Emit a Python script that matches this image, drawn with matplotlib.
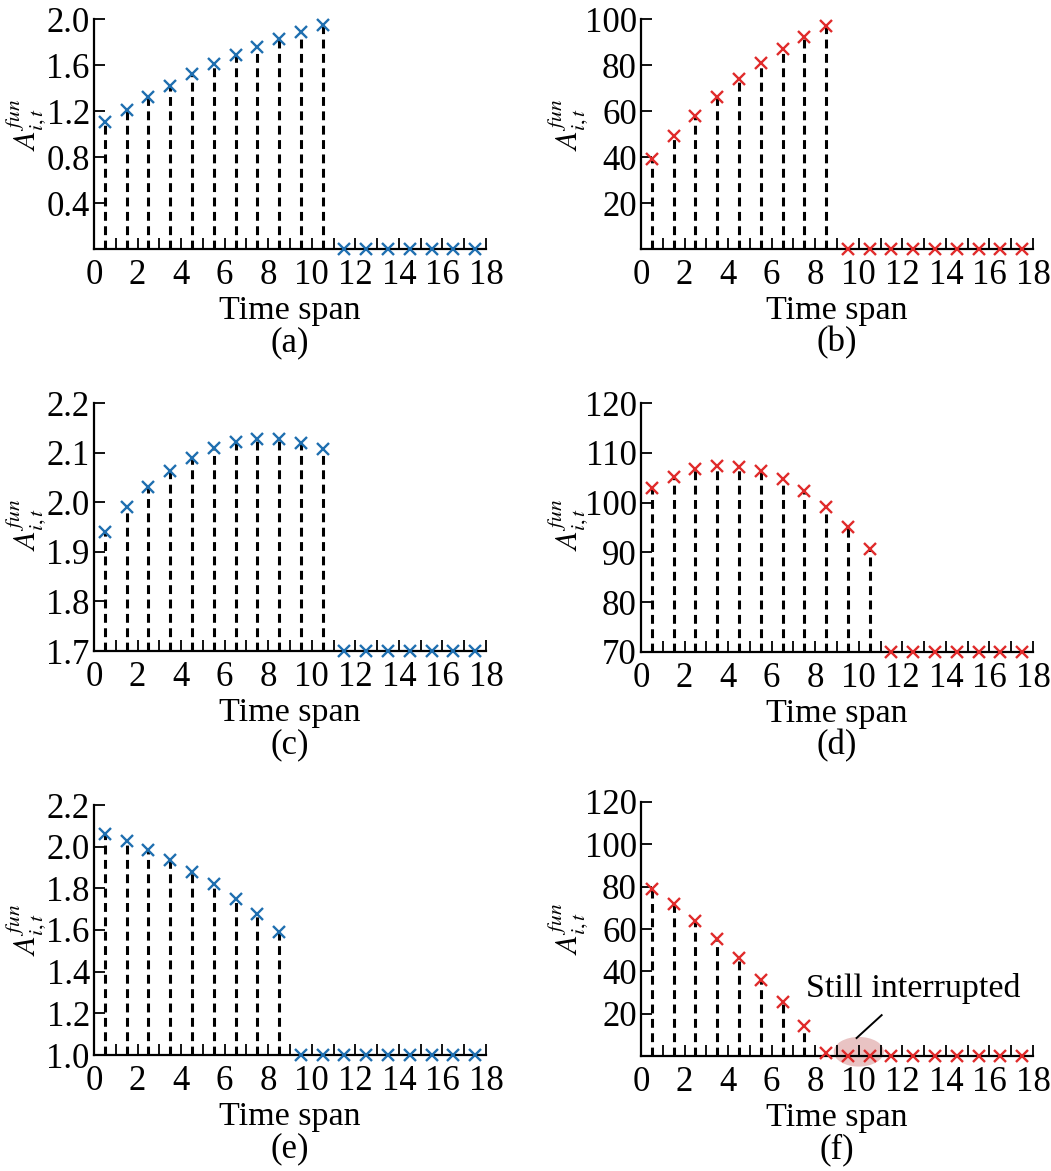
import numpy as np
import matplotlib.pyplot as plt
from matplotlib.patches import Ellipse

plt.rcParams['font.family'] = ['Liberation Serif', 'DejaVu Serif']
plt.rcParams['mathtext.fontset'] = 'stix'

t = np.arange(18) + 0.5

# values (interrupted slots sit on the baseline)
a_vals = [1.10, 1.21, 1.32, 1.42, 1.52, 1.61, 1.69, 1.76, 1.83, 1.89, 1.95] + [0.0] * 7
b_vals = [39, 49, 58, 66, 74, 81, 87, 92, 97] + [0] * 9
c_vals = [1.94, 1.99, 2.03, 2.063, 2.09, 2.11, 2.122, 2.128, 2.127, 2.12, 2.108] + [1.7] * 7
d_vals = [103.0, 105.2, 106.7, 107.3, 107.2, 106.4, 104.8, 102.3, 99.1, 95.2, 90.6] + [70] * 7
e_vals = [2.06, 2.025, 1.985, 1.935, 1.88, 1.82, 1.75, 1.675, 1.59] + [1.0] * 9
f_vals = [79, 72, 64, 55.5, 46.5, 36, 25.5, 14, 1.5] + [0] * 9

a_stems = 11
b_stems = 9
c_stems = 11
d_stems = 11
e_stems = 9
f_stems = 8

a_ticks = [0.4, 0.8, 1.2, 1.6, 2.0]
b_ticks = [20, 40, 60, 80, 100]
c_ticks = [1.7, 1.8, 1.9, 2.0, 2.1, 2.2]
d_ticks = [70, 80, 90, 100, 110, 120]
e_ticks = [1.0, 1.2, 1.4, 1.6, 1.8, 2.0, 2.2]
f_ticks = [20, 40, 60, 80, 100, 120]

blue = '#1f6fb0'
red = '#e02b2b'

W, H = 1051, 1171
fig = plt.figure(figsize=(W / 100, H / 100), dpi=100)

panels = [
    ('(a)', a_vals, a_stems, (0, 2.0), a_ticks, '%.1f', blue, 94, 19, 249, 0.54),
    ('(b)', b_vals, b_stems, (0, 100), b_ticks, '%d', red, 641, 19, 249, 0.54),
    ('(c)', c_vals, c_stems, (1.7, 2.2), c_ticks, '%.1f', blue, 94, 403, 651, 0.51),
    ('(d)', d_vals, d_stems, (70, 120), d_ticks, '%d', red, 641, 403, 652, 0.51),
    ('(e)', e_vals, e_stems, (1.0, 2.2), e_ticks, '%.1f', blue, 94, 805, 1055, 0.5),
    ('(f)', f_vals, f_stems, (0, 120), f_ticks, '%d', red, 641, 802, 1056, 0.5),
]

axes = []
for name, vals, nst, ylim, yt, fmt, col, left, top, bottom, ylab_y in panels:
    ax = fig.add_axes([left / W, 1 - bottom / H, 392 / W, (bottom - top) / H])
    vals = np.array(vals, dtype=float)
    ax.vlines(t[:nst], ylim[0], vals[:nst], colors='black', linewidth=2.2,
              linestyles=(0, (2.9, 1.8)), zorder=2)
    ax.plot(t, vals, 'x', color=col, markersize=9, markeredgewidth=1.7,
            clip_on=False, zorder=4)
    ax.set_xlim(0, 18)
    ax.set_ylim(*ylim)
    ax.set_xticks(np.arange(0, 19, 2))
    ax.set_xticks(np.arange(1, 19, 2), minor=True)
    ax.set_yticks(yt)
    ax.set_yticklabels([fmt % v for v in yt])
    ax.tick_params(axis='both', which='both', direction='in', length=8,
                   width=1.3, labelsize=25)
    ax.tick_params(axis='x', which='major', pad=7)
    ax.tick_params(axis='y', which='major', pad=3)
    for s in ['top', 'right']:
        ax.spines[s].set_visible(False)
    for s in ['left', 'bottom']:
        ax.spines[s].set_linewidth(1.6)
        ax.spines[s].set_zorder(3)
    ax.annotate('Time span', xy=(0.5, 0), xycoords='axes fraction',
                xytext=(0, -62), textcoords='offset pixels',
                ha='center', va='center', fontsize=24.5)
    ax.annotate(name, xy=(0.5, 0), xycoords='axes fraction',
                xytext=(0, -94), textcoords='offset pixels',
                ha='center', va='center', fontsize=25)
    ylab_x = -0.174 if left < 500 else -0.186
    ax.text(ylab_x, ylab_y, r'$A_{i,t}^{fun}$', transform=ax.transAxes,
            rotation=90, ha='center', va='center', fontsize=22)
    axes.append(ax)

# annotation in (f)
ax = axes[5]
ax.add_patch(Ellipse((10.0, 2.0), 2.3, 14.0, facecolor='#e9c3c3',
                     edgecolor='none', clip_on=False, zorder=1))
ax.plot([9.9, 11.05], [8.5, 19.3], color='black', linewidth=1.4, zorder=3)
ax.text(12.5, 32, 'Still interrupted', ha='center', va='center', fontsize=24.5)

fig.savefig('out.png', dpi=100)
